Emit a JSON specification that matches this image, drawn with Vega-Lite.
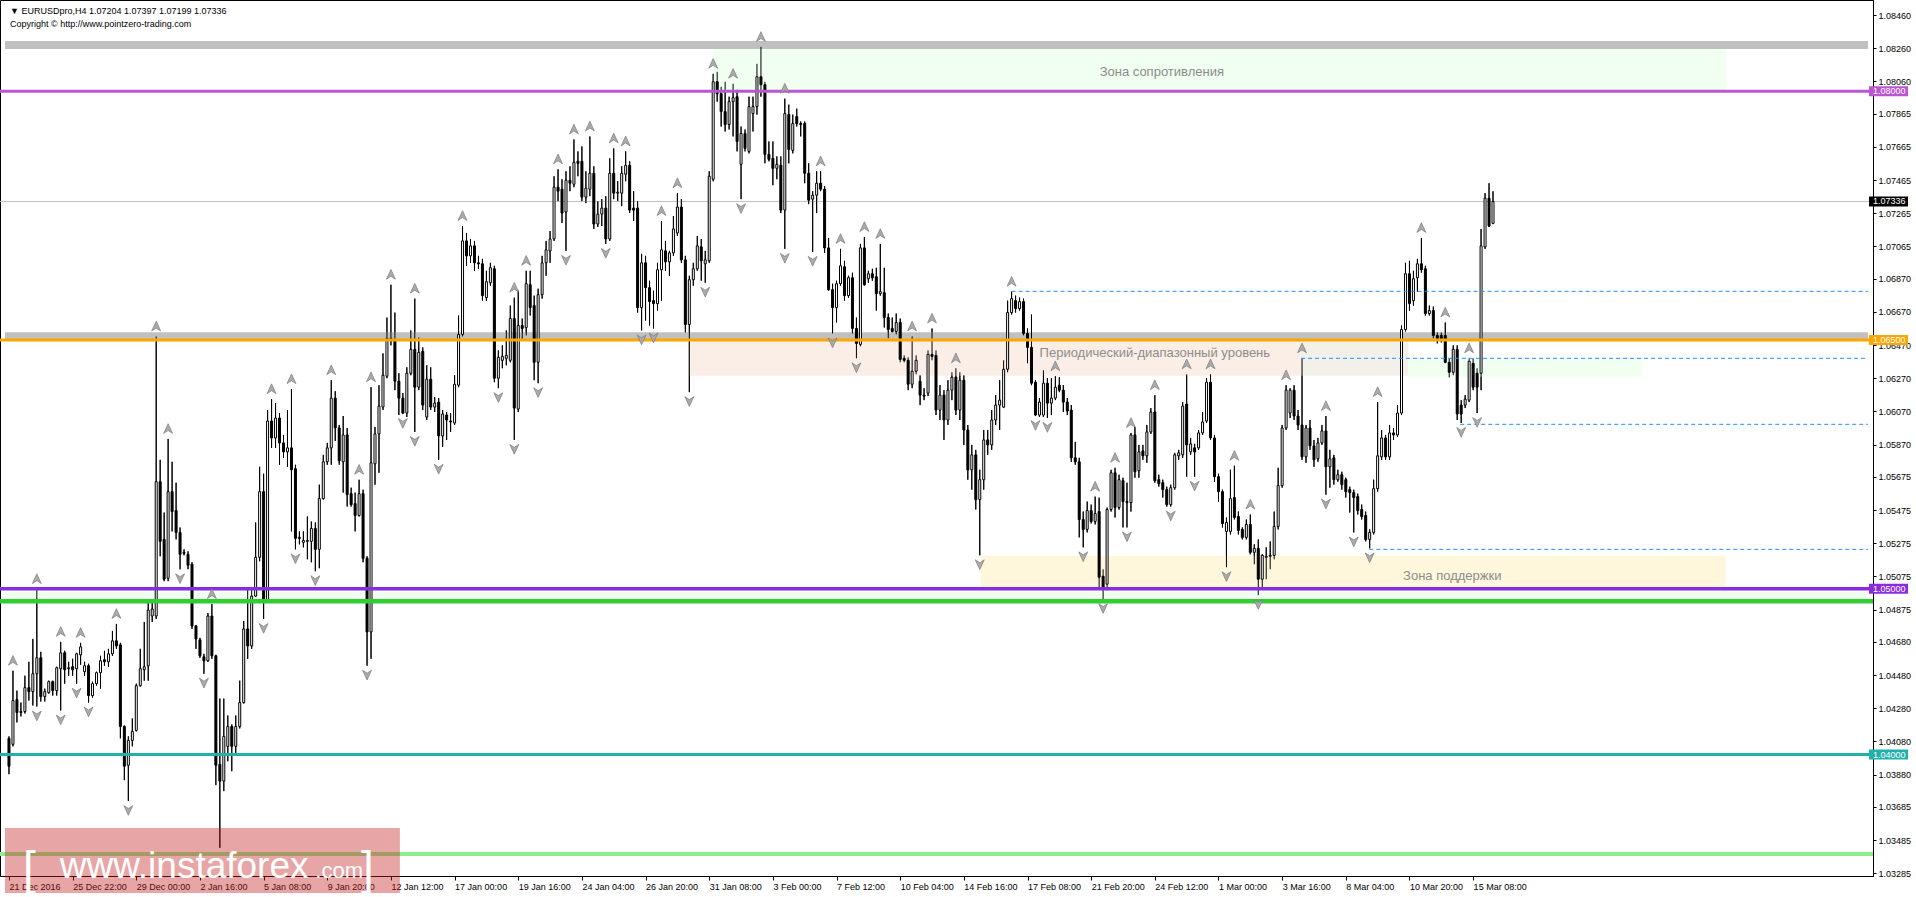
{
"$schema":"https://vega.github.io/schema/vega-lite/v6.json",
"width":1873,"height":876,"autosize":{"type":"none"},"padding":{"left":0,"top":0,"right":43,"bottom":21},"background":"white",
"config":{"view":{"stroke":"black","strokeWidth":1},"font":"Liberation Sans","axis":{"grid":false,"labelFont":"Liberation Sans","labelFontSize":9,"labelColor":"black","tickColor":"black","domainColor":"black","labelOverlap":false,"labelFlush":false,"labelBound":false}},
"datasets":{
"bars":[
{"i":0,"o":1.04098,"h":1.04110,"l":1.03882,"c":1.03930},
{"i":1,"o":1.04062,"h":1.04506,"l":1.04050,"c":1.04326,"f":"u"},
{"i":2,"o":1.04332,"h":1.04386,"l":1.04194,"c":1.04254},
{"i":3,"o":1.04260,"h":1.04314,"l":1.04230,"c":1.04254},
{"i":4,"o":1.04260,"h":1.04476,"l":1.04248,"c":1.04404},
{"i":5,"o":1.04404,"h":1.04560,"l":1.04326,"c":1.04380},
{"i":6,"o":1.04380,"h":1.04698,"l":1.04296,"c":1.04488},
{"i":7,"o":1.04488,"h":1.04998,"l":1.04290,"c":1.04584,"f":"ud"},
{"i":8,"o":1.04584,"h":1.04620,"l":1.04320,"c":1.04350},
{"i":9,"o":1.04350,"h":1.04398,"l":1.04320,"c":1.04380},
{"i":10,"o":1.04374,"h":1.04446,"l":1.04368,"c":1.04440},
{"i":11,"o":1.04440,"h":1.04446,"l":1.04356,"c":1.04386},
{"i":12,"o":1.04386,"h":1.04530,"l":1.04356,"c":1.04524},
{"i":13,"o":1.04518,"h":1.04680,"l":1.04266,"c":1.04614,"f":"ud"},
{"i":14,"o":1.04614,"h":1.04626,"l":1.04428,"c":1.04512},
{"i":15,"o":1.04518,"h":1.04560,"l":1.04476,"c":1.04524},
{"i":16,"o":1.04530,"h":1.04578,"l":1.04476,"c":1.04512},
{"i":17,"o":1.04518,"h":1.04614,"l":1.04428,"c":1.04608,"f":"d"},
{"i":18,"o":1.04602,"h":1.04674,"l":1.04542,"c":1.04650,"f":"u"},
{"i":19,"o":1.04500,"h":1.04560,"l":1.04476,"c":1.04536},
{"i":20,"o":1.04536,"h":1.04548,"l":1.04314,"c":1.04356,"f":"d"},
{"i":21,"o":1.04356,"h":1.04440,"l":1.04344,"c":1.04428},
{"i":22,"o":1.04428,"h":1.04500,"l":1.04416,"c":1.04494},
{"i":23,"o":1.04494,"h":1.04596,"l":1.04398,"c":1.04566},
{"i":24,"o":1.04572,"h":1.04626,"l":1.04536,"c":1.04560},
{"i":25,"o":1.04560,"h":1.04638,"l":1.04530,"c":1.04608},
{"i":26,"o":1.04608,"h":1.04746,"l":1.04596,"c":1.04686},
{"i":27,"o":1.04686,"h":1.04788,"l":1.04638,"c":1.04656,"f":"u"},
{"i":28,"o":1.04662,"h":1.04674,"l":1.04098,"c":1.04170},
{"i":29,"o":1.04170,"h":1.04176,"l":1.03846,"c":1.03930},
{"i":30,"o":1.03936,"h":1.04110,"l":1.03720,"c":1.04086,"f":"d"},
{"i":31,"o":1.04086,"h":1.04218,"l":1.04050,"c":1.04140},
{"i":32,"o":1.04146,"h":1.04428,"l":1.04140,"c":1.04416},
{"i":33,"o":1.04416,"h":1.04638,"l":1.04410,"c":1.04518},
{"i":34,"o":1.04512,"h":1.04800,"l":1.04446,"c":1.04530},
{"i":35,"o":1.04536,"h":1.04920,"l":1.04446,"c":1.04872},
{"i":36,"o":1.04836,"h":1.04938,"l":1.04800,"c":1.04878},
{"i":37,"o":1.04836,"h":1.06522,"l":1.04818,"c":1.05646,"f":"u"},
{"i":38,"o":1.05646,"h":1.05778,"l":1.05196,"c":1.05286},
{"i":39,"o":1.05298,"h":1.05460,"l":1.05046,"c":1.05058},
{"i":40,"o":1.05064,"h":1.05904,"l":1.05046,"c":1.05586,"f":"u"},
{"i":41,"o":1.05586,"h":1.05766,"l":1.05346,"c":1.05466},
{"i":42,"o":1.05472,"h":1.05640,"l":1.05298,"c":1.05340},
{"i":43,"o":1.05340,"h":1.05370,"l":1.05118,"c":1.05208,"f":"d"},
{"i":44,"o":1.05220,"h":1.05238,"l":1.05202,"c":1.05214},
{"i":45,"o":1.05208,"h":1.05226,"l":1.05118,"c":1.05142},
{"i":46,"o":1.05148,"h":1.05160,"l":1.04758,"c":1.04776},
{"i":47,"o":1.04776,"h":1.04782,"l":1.04638,"c":1.04698},
{"i":48,"o":1.04692,"h":1.04704,"l":1.04584,"c":1.04596},
{"i":49,"o":1.04590,"h":1.04608,"l":1.04488,"c":1.04566,"f":"d"},
{"i":50,"o":1.04566,"h":1.04854,"l":1.04560,"c":1.04836},
{"i":51,"o":1.04836,"h":1.04908,"l":1.04578,"c":1.04596,"f":"u"},
{"i":52,"o":1.04596,"h":1.04602,"l":1.03816,"c":1.03936},
{"i":53,"o":1.03942,"h":1.04338,"l":1.03438,"c":1.03840},
{"i":54,"o":1.03840,"h":1.04338,"l":1.03780,"c":1.04110},
{"i":55,"o":1.04050,"h":1.04236,"l":1.03960,"c":1.04170},
{"i":56,"o":1.04170,"h":1.04182,"l":1.03900,"c":1.04050},
{"i":57,"o":1.04050,"h":1.04236,"l":1.04008,"c":1.04170},
{"i":58,"o":1.04170,"h":1.04446,"l":1.04158,"c":1.04314},
{"i":59,"o":1.04314,"h":1.04806,"l":1.04308,"c":1.04758},
{"i":60,"o":1.04758,"h":1.04998,"l":1.04578,"c":1.04656},
{"i":61,"o":1.04656,"h":1.04998,"l":1.04638,"c":1.04956},
{"i":62,"o":1.04956,"h":1.05400,"l":1.04950,"c":1.05190},
{"i":63,"o":1.05190,"h":1.05736,"l":1.05166,"c":1.05586},
{"i":64,"o":1.05586,"h":1.05694,"l":1.04818,"c":1.04938,"f":"d"},
{"i":65,"o":1.04932,"h":1.06078,"l":1.04920,"c":1.06012},
{"i":66,"o":1.06012,"h":1.06144,"l":1.05850,"c":1.05910,"f":"u"},
{"i":67,"o":1.05910,"h":1.06120,"l":1.05850,"c":1.06030},
{"i":68,"o":1.06030,"h":1.06060,"l":1.05748,"c":1.05880},
{"i":69,"o":1.05880,"h":1.05928,"l":1.05790,"c":1.05826},
{"i":70,"o":1.05826,"h":1.06078,"l":1.05736,"c":1.05850},
{"i":71,"o":1.05850,"h":1.06204,"l":1.05346,"c":1.05718,"f":"u"},
{"i":72,"o":1.05724,"h":1.05748,"l":1.05238,"c":1.05304,"f":"d"},
{"i":73,"o":1.05310,"h":1.05346,"l":1.05268,"c":1.05304},
{"i":74,"o":1.05280,"h":1.05346,"l":1.05250,"c":1.05292},
{"i":75,"o":1.05286,"h":1.05436,"l":1.05178,"c":1.05292},
{"i":76,"o":1.05286,"h":1.05406,"l":1.05160,"c":1.05364},
{"i":77,"o":1.05364,"h":1.05400,"l":1.05106,"c":1.05238,"f":"d"},
{"i":78,"o":1.05238,"h":1.05628,"l":1.05124,"c":1.05544},
{"i":79,"o":1.05544,"h":1.05808,"l":1.05538,"c":1.05766},
{"i":80,"o":1.05766,"h":1.05880,"l":1.05748,"c":1.05850},
{"i":81,"o":1.05850,"h":1.06258,"l":1.05748,"c":1.06150,"f":"u"},
{"i":82,"o":1.06150,"h":1.06192,"l":1.05892,"c":1.05970},
{"i":83,"o":1.05970,"h":1.05988,"l":1.05748,"c":1.05772},
{"i":84,"o":1.05766,"h":1.06042,"l":1.05580,"c":1.05928},
{"i":85,"o":1.05928,"h":1.05970,"l":1.05496,"c":1.05568},
{"i":86,"o":1.05574,"h":1.05610,"l":1.05496,"c":1.05508},
{"i":87,"o":1.05514,"h":1.05580,"l":1.05346,"c":1.05442},
{"i":88,"o":1.05442,"h":1.05658,"l":1.05436,"c":1.05574,"f":"u"},
{"i":89,"o":1.05574,"h":1.05598,"l":1.05160,"c":1.05184},
{"i":90,"o":1.05184,"h":1.05196,"l":1.04536,"c":1.04740,"f":"d"},
{"i":91,"o":1.04740,"h":1.06216,"l":1.04578,"c":1.05760,"f":"u"},
{"i":92,"o":1.05754,"h":1.05976,"l":1.05628,"c":1.05934},
{"i":93,"o":1.05934,"h":1.06228,"l":1.05700,"c":1.06102},
{"i":94,"o":1.06096,"h":1.06420,"l":1.06078,"c":1.06288},
{"i":95,"o":1.06282,"h":1.06636,"l":1.06270,"c":1.06510},
{"i":96,"o":1.06504,"h":1.06834,"l":1.06468,"c":1.06510,"f":"u"},
{"i":97,"o":1.06504,"h":1.06666,"l":1.06198,"c":1.06252},
{"i":98,"o":1.06252,"h":1.06300,"l":1.06048,"c":1.06150},
{"i":99,"o":1.06150,"h":1.06180,"l":1.06054,"c":1.06060,"f":"d"},
{"i":100,"o":1.06060,"h":1.06336,"l":1.06036,"c":1.06300},
{"i":101,"o":1.06300,"h":1.06558,"l":1.06288,"c":1.06444},
{"i":102,"o":1.06444,"h":1.06750,"l":1.05946,"c":1.06216,"f":"ud"},
{"i":103,"o":1.06216,"h":1.06516,"l":1.06198,"c":1.06426},
{"i":104,"o":1.06432,"h":1.06456,"l":1.06078,"c":1.06108},
{"i":105,"o":1.06036,"h":1.06348,"l":1.06018,"c":1.06264},
{"i":106,"o":1.06264,"h":1.06336,"l":1.06078,"c":1.06096},
{"i":107,"o":1.06096,"h":1.06156,"l":1.06066,"c":1.06120},
{"i":108,"o":1.06126,"h":1.06150,"l":1.05778,"c":1.05922,"f":"d"},
{"i":109,"o":1.05922,"h":1.06078,"l":1.05856,"c":1.06054},
{"i":110,"o":1.06048,"h":1.06066,"l":1.05898,"c":1.06018},
{"i":111,"o":1.06012,"h":1.06060,"l":1.05946,"c":1.06006},
{"i":112,"o":1.06000,"h":1.06288,"l":1.05988,"c":1.06234},
{"i":113,"o":1.06228,"h":1.06648,"l":1.06216,"c":1.06534},
{"i":114,"o":1.06534,"h":1.07188,"l":1.06522,"c":1.07098,"f":"u"},
{"i":115,"o":1.07098,"h":1.07146,"l":1.06948,"c":1.07008},
{"i":116,"o":1.07008,"h":1.07110,"l":1.06966,"c":1.07068},
{"i":117,"o":1.07068,"h":1.07098,"l":1.06918,"c":1.06966},
{"i":118,"o":1.06966,"h":1.07008,"l":1.06930,"c":1.06960},
{"i":119,"o":1.06960,"h":1.06990,"l":1.06738,"c":1.06768},
{"i":120,"o":1.06756,"h":1.06918,"l":1.06738,"c":1.06852},
{"i":121,"o":1.06846,"h":1.06966,"l":1.06828,"c":1.06936},
{"i":122,"o":1.06930,"h":1.06948,"l":1.06246,"c":1.06270},
{"i":123,"o":1.06270,"h":1.06438,"l":1.06210,"c":1.06396,"f":"d"},
{"i":124,"o":1.06378,"h":1.06468,"l":1.06330,"c":1.06402},
{"i":125,"o":1.06390,"h":1.06558,"l":1.06348,"c":1.06408},
{"i":126,"o":1.06378,"h":1.06708,"l":1.06366,"c":1.06630},
{"i":127,"o":1.06630,"h":1.06756,"l":1.05898,"c":1.06090,"f":"ud"},
{"i":128,"o":1.06084,"h":1.06798,"l":1.06066,"c":1.06588},
{"i":129,"o":1.06588,"h":1.06630,"l":1.06498,"c":1.06570},
{"i":130,"o":1.06576,"h":1.06918,"l":1.06528,"c":1.06840,"f":"u"},
{"i":131,"o":1.06834,"h":1.06918,"l":1.06648,"c":1.06696},
{"i":132,"o":1.06708,"h":1.06768,"l":1.06258,"c":1.06366},
{"i":133,"o":1.06366,"h":1.06810,"l":1.06240,"c":1.06774,"f":"d"},
{"i":134,"o":1.06774,"h":1.07008,"l":1.06750,"c":1.06966},
{"i":135,"o":1.06966,"h":1.07098,"l":1.06888,"c":1.07044},
{"i":136,"o":1.07038,"h":1.07158,"l":1.06966,"c":1.07110},
{"i":137,"o":1.07110,"h":1.07488,"l":1.07098,"c":1.07422},
{"i":138,"o":1.07422,"h":1.07530,"l":1.07338,"c":1.07398,"f":"u"},
{"i":139,"o":1.07410,"h":1.07470,"l":1.07206,"c":1.07266},
{"i":140,"o":1.07272,"h":1.07518,"l":1.07038,"c":1.07464,"f":"d"},
{"i":141,"o":1.07464,"h":1.07548,"l":1.07398,"c":1.07446},
{"i":142,"o":1.07440,"h":1.07710,"l":1.07422,"c":1.07572,"f":"u"},
{"i":143,"o":1.07578,"h":1.07638,"l":1.07488,"c":1.07566},
{"i":144,"o":1.07578,"h":1.07668,"l":1.07338,"c":1.07362},
{"i":145,"o":1.07362,"h":1.07518,"l":1.07326,"c":1.07416},
{"i":146,"o":1.07410,"h":1.07728,"l":1.07368,"c":1.07506,"f":"u"},
{"i":147,"o":1.07506,"h":1.07548,"l":1.07170,"c":1.07200},
{"i":148,"o":1.07200,"h":1.07338,"l":1.07182,"c":1.07260},
{"i":149,"o":1.07260,"h":1.07350,"l":1.07188,"c":1.07296},
{"i":150,"o":1.07296,"h":1.07368,"l":1.07080,"c":1.07110,"f":"d"},
{"i":151,"o":1.07110,"h":1.07596,"l":1.07098,"c":1.07506},
{"i":152,"o":1.07506,"h":1.07656,"l":1.07350,"c":1.07386,"f":"u"},
{"i":153,"o":1.07386,"h":1.07458,"l":1.07338,"c":1.07392},
{"i":154,"o":1.07386,"h":1.07548,"l":1.07308,"c":1.07506},
{"i":155,"o":1.07500,"h":1.07638,"l":1.07458,"c":1.07554,"f":"u"},
{"i":156,"o":1.07554,"h":1.07578,"l":1.07266,"c":1.07284},
{"i":157,"o":1.07296,"h":1.07398,"l":1.07218,"c":1.07284},
{"i":158,"o":1.07296,"h":1.07338,"l":1.06666,"c":1.06696},
{"i":159,"o":1.06696,"h":1.07020,"l":1.06558,"c":1.06966,"f":"d"},
{"i":160,"o":1.06966,"h":1.07008,"l":1.06618,"c":1.06816},
{"i":161,"o":1.06816,"h":1.06858,"l":1.06588,"c":1.06732},
{"i":162,"o":1.06738,"h":1.06798,"l":1.06570,"c":1.06720,"f":"d"},
{"i":163,"o":1.06720,"h":1.06966,"l":1.06678,"c":1.06924},
{"i":164,"o":1.06924,"h":1.07218,"l":1.06738,"c":1.07044,"f":"u"},
{"i":165,"o":1.07038,"h":1.07098,"l":1.06918,"c":1.06972},
{"i":166,"o":1.06972,"h":1.07038,"l":1.06888,"c":1.07026},
{"i":167,"o":1.07026,"h":1.07248,"l":1.07008,"c":1.07170},
{"i":168,"o":1.07146,"h":1.07386,"l":1.07128,"c":1.07302,"f":"u"},
{"i":169,"o":1.07302,"h":1.07350,"l":1.06966,"c":1.06984},
{"i":170,"o":1.06984,"h":1.07008,"l":1.06546,"c":1.06594},
{"i":171,"o":1.06594,"h":1.06888,"l":1.06186,"c":1.06864,"f":"d"},
{"i":172,"o":1.06864,"h":1.06966,"l":1.06828,"c":1.06930},
{"i":173,"o":1.06930,"h":1.07128,"l":1.06918,"c":1.07068},
{"i":174,"o":1.07062,"h":1.07110,"l":1.06858,"c":1.06978},
{"i":175,"o":1.06960,"h":1.07038,"l":1.06846,"c":1.06984,"f":"d"},
{"i":176,"o":1.06978,"h":1.07518,"l":1.06966,"c":1.07488},
{"i":177,"o":1.07470,"h":1.08106,"l":1.07458,"c":1.08058,"f":"u"},
{"i":178,"o":1.08058,"h":1.08118,"l":1.07938,"c":1.07986},
{"i":179,"o":1.07986,"h":1.08028,"l":1.07788,"c":1.07878},
{"i":180,"o":1.07878,"h":1.08058,"l":1.07758,"c":1.07800},
{"i":181,"o":1.07800,"h":1.07968,"l":1.07770,"c":1.07938},
{"i":182,"o":1.07938,"h":1.08046,"l":1.07728,"c":1.07962,"f":"u"},
{"i":183,"o":1.07968,"h":1.08010,"l":1.07638,"c":1.07698},
{"i":184,"o":1.07560,"h":1.07788,"l":1.07350,"c":1.07746,"f":"d"},
{"i":185,"o":1.07746,"h":1.07770,"l":1.07638,"c":1.07656},
{"i":186,"o":1.07638,"h":1.07968,"l":1.07626,"c":1.07908},
{"i":187,"o":1.07866,"h":1.07968,"l":1.07758,"c":1.07908},
{"i":188,"o":1.07908,"h":1.08166,"l":1.07860,"c":1.08088},
{"i":189,"o":1.08088,"h":1.08268,"l":1.07968,"c":1.08040,"f":"u"},
{"i":190,"o":1.08040,"h":1.08058,"l":1.07566,"c":1.07620},
{"i":191,"o":1.07620,"h":1.07698,"l":1.07578,"c":1.07590},
{"i":192,"o":1.07596,"h":1.07698,"l":1.07434,"c":1.07536},
{"i":193,"o":1.07536,"h":1.07608,"l":1.07470,"c":1.07560},
{"i":194,"o":1.07554,"h":1.07608,"l":1.07266,"c":1.07284},
{"i":195,"o":1.07284,"h":1.07956,"l":1.07050,"c":1.07866,"f":"ud"},
{"i":196,"o":1.07860,"h":1.07920,"l":1.07566,"c":1.07650},
{"i":197,"o":1.07644,"h":1.07860,"l":1.07626,"c":1.07806},
{"i":198,"o":1.07848,"h":1.07896,"l":1.07788,"c":1.07806},
{"i":199,"o":1.07806,"h":1.07818,"l":1.07728,"c":1.07800},
{"i":200,"o":1.07806,"h":1.07818,"l":1.07446,"c":1.07506},
{"i":201,"o":1.07506,"h":1.07566,"l":1.07320,"c":1.07344},
{"i":202,"o":1.07350,"h":1.07398,"l":1.07032,"c":1.07374,"f":"d"},
{"i":203,"o":1.07374,"h":1.07518,"l":1.07266,"c":1.07446},
{"i":204,"o":1.07446,"h":1.07518,"l":1.07398,"c":1.07410,"f":"u"},
{"i":205,"o":1.07410,"h":1.07428,"l":1.07026,"c":1.07056},
{"i":206,"o":1.07056,"h":1.07116,"l":1.06798,"c":1.06804},
{"i":207,"o":1.06804,"h":1.06840,"l":1.06540,"c":1.06696,"f":"d"},
{"i":208,"o":1.06696,"h":1.06858,"l":1.06606,"c":1.06840},
{"i":209,"o":1.06840,"h":1.07050,"l":1.06828,"c":1.06948,"f":"u"},
{"i":210,"o":1.06942,"h":1.06978,"l":1.06738,"c":1.06768},
{"i":211,"o":1.06768,"h":1.06888,"l":1.06756,"c":1.06876},
{"i":212,"o":1.06876,"h":1.06906,"l":1.06540,"c":1.06570},
{"i":213,"o":1.06570,"h":1.06636,"l":1.06390,"c":1.06480,"f":"d"},
{"i":214,"o":1.06474,"h":1.07080,"l":1.06462,"c":1.07056},
{"i":215,"o":1.07056,"h":1.07122,"l":1.06828,"c":1.06834,"f":"u"},
{"i":216,"o":1.06870,"h":1.06918,"l":1.06846,"c":1.06900},
{"i":217,"o":1.06900,"h":1.06930,"l":1.06858,"c":1.06876},
{"i":218,"o":1.06882,"h":1.06936,"l":1.06678,"c":1.06780},
{"i":219,"o":1.06780,"h":1.07080,"l":1.06768,"c":1.06792,"f":"u"},
{"i":220,"o":1.06786,"h":1.06936,"l":1.06576,"c":1.06636},
{"i":221,"o":1.06636,"h":1.06660,"l":1.06510,"c":1.06564},
{"i":222,"o":1.06570,"h":1.06636,"l":1.06546,"c":1.06552},
{"i":223,"o":1.06552,"h":1.06660,"l":1.06534,"c":1.06606},
{"i":224,"o":1.06606,"h":1.06630,"l":1.06366,"c":1.06384},
{"i":225,"o":1.06390,"h":1.06408,"l":1.06366,"c":1.06378},
{"i":226,"o":1.06378,"h":1.06396,"l":1.06198,"c":1.06234},
{"i":227,"o":1.06234,"h":1.06522,"l":1.06210,"c":1.06312,"f":"u"},
{"i":228,"o":1.06312,"h":1.06408,"l":1.06294,"c":1.06378},
{"i":229,"o":1.06252,"h":1.06288,"l":1.06108,"c":1.06168},
{"i":230,"o":1.06168,"h":1.06210,"l":1.06138,"c":1.06162},
{"i":231,"o":1.06180,"h":1.06438,"l":1.06162,"c":1.06414},
{"i":232,"o":1.06414,"h":1.06570,"l":1.06378,"c":1.06402,"f":"u"},
{"i":233,"o":1.06408,"h":1.06438,"l":1.06048,"c":1.06078},
{"i":234,"o":1.06078,"h":1.06228,"l":1.06018,"c":1.06168},
{"i":235,"o":1.06168,"h":1.06198,"l":1.05898,"c":1.06018},
{"i":236,"o":1.06018,"h":1.06258,"l":1.05988,"c":1.06198},
{"i":237,"o":1.06198,"h":1.06306,"l":1.06138,"c":1.06276},
{"i":238,"o":1.06276,"h":1.06330,"l":1.06048,"c":1.06078,"f":"u"},
{"i":239,"o":1.06078,"h":1.06306,"l":1.06018,"c":1.06258},
{"i":240,"o":1.06258,"h":1.06288,"l":1.05868,"c":1.05958},
{"i":241,"o":1.05958,"h":1.05988,"l":1.05658,"c":1.05718},
{"i":242,"o":1.05718,"h":1.05868,"l":1.05598,"c":1.05808},
{"i":243,"o":1.05808,"h":1.05838,"l":1.05478,"c":1.05538},
{"i":244,"o":1.05538,"h":1.05718,"l":1.05202,"c":1.05658,"f":"d"},
{"i":245,"o":1.05658,"h":1.05958,"l":1.05598,"c":1.05898},
{"i":246,"o":1.05898,"h":1.05958,"l":1.05808,"c":1.05868},
{"i":247,"o":1.05868,"h":1.06078,"l":1.05838,"c":1.06018},
{"i":248,"o":1.06018,"h":1.06168,"l":1.05988,"c":1.06108},
{"i":249,"o":1.06108,"h":1.06258,"l":1.05958,"c":1.06138},
{"i":250,"o":1.06096,"h":1.06378,"l":1.06090,"c":1.06324},
{"i":251,"o":1.06324,"h":1.06738,"l":1.06306,"c":1.06666},
{"i":252,"o":1.06666,"h":1.06792,"l":1.06654,"c":1.06750,"f":"u"},
{"i":253,"o":1.06738,"h":1.06768,"l":1.06666,"c":1.06690},
{"i":254,"o":1.06690,"h":1.06756,"l":1.06678,"c":1.06732},
{"i":255,"o":1.06732,"h":1.06750,"l":1.06528,"c":1.06540},
{"i":256,"o":1.06540,"h":1.06570,"l":1.06360,"c":1.06456},
{"i":257,"o":1.06456,"h":1.06654,"l":1.06228,"c":1.06240},
{"i":258,"o":1.06246,"h":1.06258,"l":1.06042,"c":1.06048,"f":"d"},
{"i":259,"o":1.06048,"h":1.06150,"l":1.06036,"c":1.06126},
{"i":260,"o":1.06048,"h":1.06318,"l":1.06036,"c":1.06240},
{"i":261,"o":1.06240,"h":1.06270,"l":1.06030,"c":1.06120,"f":"d"},
{"i":262,"o":1.06120,"h":1.06270,"l":1.06048,"c":1.06150},
{"i":263,"o":1.06150,"h":1.06282,"l":1.06138,"c":1.06216,"f":"u"},
{"i":264,"o":1.06228,"h":1.06276,"l":1.06186,"c":1.06198},
{"i":265,"o":1.06198,"h":1.06228,"l":1.06066,"c":1.06126},
{"i":266,"o":1.06126,"h":1.06150,"l":1.06048,"c":1.06072},
{"i":267,"o":1.06078,"h":1.06108,"l":1.05766,"c":1.05790},
{"i":268,"o":1.05790,"h":1.05886,"l":1.05748,"c":1.05766},
{"i":269,"o":1.05766,"h":1.05790,"l":1.05310,"c":1.05418},
{"i":270,"o":1.05418,"h":1.05466,"l":1.05250,"c":1.05358,"f":"d"},
{"i":271,"o":1.05358,"h":1.05526,"l":1.05340,"c":1.05472},
{"i":272,"o":1.05472,"h":1.05508,"l":1.05394,"c":1.05406},
{"i":273,"o":1.05406,"h":1.05556,"l":1.05388,"c":1.05454,"f":"u"},
{"i":274,"o":1.05466,"h":1.05550,"l":1.04998,"c":1.05070},
{"i":275,"o":1.05076,"h":1.05118,"l":1.04938,"c":1.04998,"f":"d"},
{"i":276,"o":1.05028,"h":1.05490,"l":1.04998,"c":1.05478},
{"i":277,"o":1.05478,"h":1.05718,"l":1.05466,"c":1.05700},
{"i":278,"o":1.05700,"h":1.05730,"l":1.05430,"c":1.05490,"f":"u"},
{"i":279,"o":1.05490,"h":1.05688,"l":1.05478,"c":1.05658},
{"i":280,"o":1.05652,"h":1.05670,"l":1.05370,"c":1.05526},
{"i":281,"o":1.05526,"h":1.05640,"l":1.05370,"c":1.05520,"f":"d"},
{"i":282,"o":1.05520,"h":1.05940,"l":1.05466,"c":1.05928,"f":"u"},
{"i":283,"o":1.05928,"h":1.05976,"l":1.05670,"c":1.05706},
{"i":284,"o":1.05712,"h":1.05868,"l":1.05670,"c":1.05826},
{"i":285,"o":1.05832,"h":1.05868,"l":1.05778,"c":1.05802},
{"i":286,"o":1.05802,"h":1.05988,"l":1.05760,"c":1.05946},
{"i":287,"o":1.05946,"h":1.06090,"l":1.05934,"c":1.06066},
{"i":288,"o":1.06066,"h":1.06168,"l":1.05640,"c":1.05652,"f":"u"},
{"i":289,"o":1.05658,"h":1.05688,"l":1.05616,"c":1.05634},
{"i":290,"o":1.05640,"h":1.05658,"l":1.05550,"c":1.05598},
{"i":291,"o":1.05598,"h":1.05616,"l":1.05496,"c":1.05508},
{"i":292,"o":1.05508,"h":1.05628,"l":1.05496,"c":1.05610,"f":"d"},
{"i":293,"o":1.05610,"h":1.05820,"l":1.05598,"c":1.05808},
{"i":294,"o":1.05802,"h":1.05838,"l":1.05778,"c":1.05820},
{"i":295,"o":1.05808,"h":1.06126,"l":1.05790,"c":1.06102},
{"i":296,"o":1.06114,"h":1.06294,"l":1.05676,"c":1.05868,"f":"u"},
{"i":297,"o":1.05826,"h":1.05910,"l":1.05808,"c":1.05874},
{"i":298,"o":1.05850,"h":1.05874,"l":1.05676,"c":1.05826,"f":"d"},
{"i":299,"o":1.05850,"h":1.05958,"l":1.05838,"c":1.05940},
{"i":300,"o":1.05940,"h":1.06066,"l":1.05928,"c":1.06006},
{"i":301,"o":1.06012,"h":1.06270,"l":1.06000,"c":1.06246},
{"i":302,"o":1.06246,"h":1.06294,"l":1.05898,"c":1.05910,"f":"u"},
{"i":303,"o":1.05910,"h":1.05928,"l":1.05646,"c":1.05676},
{"i":304,"o":1.05676,"h":1.05694,"l":1.05526,"c":1.05586},
{"i":305,"o":1.05586,"h":1.05598,"l":1.05370,"c":1.05394},
{"i":306,"o":1.05346,"h":1.05430,"l":1.05130,"c":1.05400,"f":"d"},
{"i":307,"o":1.05346,"h":1.05718,"l":1.05328,"c":1.05544},
{"i":308,"o":1.05550,"h":1.05742,"l":1.05418,"c":1.05430,"f":"u"},
{"i":309,"o":1.05436,"h":1.05466,"l":1.05328,"c":1.05352},
{"i":310,"o":1.05358,"h":1.05370,"l":1.05298,"c":1.05310},
{"i":311,"o":1.05310,"h":1.05418,"l":1.05298,"c":1.05388},
{"i":312,"o":1.05388,"h":1.05448,"l":1.05208,"c":1.05220,"f":"u"},
{"i":313,"o":1.05220,"h":1.05268,"l":1.05148,"c":1.05244},
{"i":314,"o":1.05244,"h":1.05298,"l":1.04962,"c":1.05058,"f":"d"},
{"i":315,"o":1.05058,"h":1.05208,"l":1.04998,"c":1.05202},
{"i":316,"o":1.05190,"h":1.05250,"l":1.05058,"c":1.05196},
{"i":317,"o":1.05196,"h":1.05286,"l":1.05118,"c":1.05202},
{"i":318,"o":1.05202,"h":1.05466,"l":1.05178,"c":1.05376},
{"i":319,"o":1.05376,"h":1.05730,"l":1.05358,"c":1.05622},
{"i":320,"o":1.05622,"h":1.05988,"l":1.05610,"c":1.05970},
{"i":321,"o":1.05970,"h":1.06228,"l":1.05958,"c":1.06198,"f":"u"},
{"i":322,"o":1.06060,"h":1.06210,"l":1.06030,"c":1.06198},
{"i":323,"o":1.06198,"h":1.06228,"l":1.06018,"c":1.06042},
{"i":324,"o":1.06042,"h":1.06078,"l":1.05958,"c":1.05988},
{"i":325,"o":1.05988,"h":1.06390,"l":1.05778,"c":1.05796,"f":"u"},
{"i":326,"o":1.05796,"h":1.05988,"l":1.05760,"c":1.05970},
{"i":327,"o":1.05970,"h":1.06018,"l":1.05838,"c":1.05862},
{"i":328,"o":1.05862,"h":1.05898,"l":1.05736,"c":1.05778},
{"i":329,"o":1.05784,"h":1.05910,"l":1.05766,"c":1.05880},
{"i":330,"o":1.05880,"h":1.05988,"l":1.05868,"c":1.05952},
{"i":331,"o":1.05952,"h":1.06042,"l":1.05568,"c":1.05736,"f":"ud"},
{"i":332,"o":1.05736,"h":1.05838,"l":1.05610,"c":1.05784},
{"i":333,"o":1.05790,"h":1.05808,"l":1.05628,"c":1.05658},
{"i":334,"o":1.05658,"h":1.05718,"l":1.05646,"c":1.05688},
{"i":335,"o":1.05688,"h":1.05706,"l":1.05598,"c":1.05628},
{"i":336,"o":1.05658,"h":1.05670,"l":1.05550,"c":1.05586},
{"i":337,"o":1.05598,"h":1.05616,"l":1.05460,"c":1.05580},
{"i":338,"o":1.05580,"h":1.05598,"l":1.05340,"c":1.05550,"f":"d"},
{"i":339,"o":1.05556,"h":1.05574,"l":1.05448,"c":1.05472},
{"i":340,"o":1.05478,"h":1.05508,"l":1.05418,"c":1.05436},
{"i":341,"o":1.05442,"h":1.05466,"l":1.05286,"c":1.05298},
{"i":342,"o":1.05298,"h":1.05358,"l":1.05244,"c":1.05340,"f":"d"},
{"i":343,"o":1.05340,"h":1.05658,"l":1.05328,"c":1.05604},
{"i":344,"o":1.05604,"h":1.06126,"l":1.05586,"c":1.05802,"f":"u"},
{"i":345,"o":1.05796,"h":1.05958,"l":1.05778,"c":1.05910},
{"i":346,"o":1.05910,"h":1.05928,"l":1.05778,"c":1.05796},
{"i":347,"o":1.05796,"h":1.05988,"l":1.05778,"c":1.05940},
{"i":348,"o":1.05940,"h":1.05970,"l":1.05898,"c":1.05928},
{"i":349,"o":1.05928,"h":1.06108,"l":1.05916,"c":1.06060},
{"i":350,"o":1.06060,"h":1.06588,"l":1.06048,"c":1.06564},
{"i":351,"o":1.06564,"h":1.06966,"l":1.06552,"c":1.06900},
{"i":352,"o":1.06900,"h":1.06978,"l":1.06678,"c":1.06720},
{"i":353,"o":1.06738,"h":1.06918,"l":1.06708,"c":1.06870},
{"i":354,"o":1.06876,"h":1.06990,"l":1.06792,"c":1.06960},
{"i":355,"o":1.06960,"h":1.07116,"l":1.06906,"c":1.06924,"f":"u"},
{"i":356,"o":1.06930,"h":1.06948,"l":1.06648,"c":1.06660},
{"i":357,"o":1.06660,"h":1.06708,"l":1.06648,"c":1.06678},
{"i":358,"o":1.06678,"h":1.06702,"l":1.06510,"c":1.06528},
{"i":359,"o":1.06528,"h":1.06546,"l":1.06480,"c":1.06510},
{"i":360,"o":1.06528,"h":1.06546,"l":1.06486,"c":1.06498},
{"i":361,"o":1.06528,"h":1.06606,"l":1.06360,"c":1.06366,"f":"u"},
{"i":362,"o":1.06366,"h":1.06390,"l":1.06276,"c":1.06306},
{"i":363,"o":1.06306,"h":1.06468,"l":1.06288,"c":1.06444},
{"i":364,"o":1.06444,"h":1.06468,"l":1.06018,"c":1.06054},
{"i":365,"o":1.06108,"h":1.06138,"l":1.06000,"c":1.06054,"f":"d"},
{"i":366,"o":1.06108,"h":1.06168,"l":1.06090,"c":1.06144},
{"i":367,"o":1.06138,"h":1.06390,"l":1.06126,"c":1.06372,"f":"u"},
{"i":368,"o":1.06360,"h":1.06390,"l":1.06198,"c":1.06216},
{"i":369,"o":1.06300,"h":1.06330,"l":1.06060,"c":1.06216,"f":"d"},
{"i":370,"o":1.06300,"h":1.07170,"l":1.06198,"c":1.07068},
{"i":371,"o":1.07062,"h":1.07386,"l":1.07050,"c":1.07356},
{"i":372,"o":1.07356,"h":1.07446,"l":1.07182,"c":1.07188},
{"i":373,"o":1.07204,"h":1.07397,"l":1.07199,"c":1.07336}
],
"zones":[
{"k":"gap","a":-1,"b":467.25,"p1":1.04925,"p2":1.05},
{"k":"res","a":177,"b":431.5,"p1":1.08,"p2":1.08255},
{"k":"band","a":-1,"b":467.25,"p1":1.08255,"p2":1.08303},
{"k":"band","a":-1,"b":467.25,"p1":1.06504,"p2":1.06547},
{"k":"range","a":171,"b":324.75,"p1":1.06285,"p2":1.065},
{"k":"range2","a":324.75,"b":351.75,"p1":1.06285,"p2":1.065},
{"k":"res2","a":351.75,"b":410.5,"p1":1.06279,"p2":1.06392},
{"k":"sup","a":244.25,"b":431.5,"p1":1.05,"p2":1.052}
],
"levels":[
{"k":"cur","p":1.07336},
{"k":"m","p":1.08},
{"k":"o","p":1.065},
{"k":"v","p":1.05},
{"k":"g","p":1.04925},
{"k":"t","p":1.04},
{"k":"lg","p":1.03401}
],
"dashed":[
{"a":252,"p":1.06794},
{"a":324.75,"p":1.0639},
{"a":364.75,"p":1.05992},
{"a":341.9,"p":1.05238}
],
"notes":[
{"t":"Зона сопротивления","i":289.75,"p":1.08116},
{"t":"Периодический-диапазонный уровень","i":288,"p":1.06422},
{"t":"Зона поддержки","i":362.75,"p":1.0508}
],
"hdr":[
{"t":"▼ EURUSDpro,H4  1.07204 1.07397 1.07199 1.07336","p":1.08484},
{"t":"Copyright © http://www.pointzero-trading.com","p":1.08406}
],
"wm":[{"a":-1,"b":98.25,"p1":1.03166,"p2":1.03558}],
"wmt":[
{"t":"[","i":3.5,"s":"b"},
{"t":"www.instaforex","i":12.75,"s":"m"},
{"t":".com","i":77,"s":"c"},
{"t":"]","i":88.5,"s":"b"}
],
"tags":[
{"k":"m","p":1.08},
{"k":"cur","p":1.07336},
{"k":"o","p":1.065},
{"k":"v","p":1.05},
{"k":"t","p":1.04}
]
},
"layer":[
{"data":{"name":"bars"},"mark":{"type":"rule","color":"black","strokeWidth":1},
 "encoding":{
  "x":{"field":"i","type":"quantitative","scale":{"domain":[-1,467.25],"nice":false,"zero":false},
   "axis":{"orient":"bottom","title":null,"grid":false,"tickCount":60,"values":[0,16,32,48,64,80,96,112,128,144,160,176,192,208,224,240,256,272,288,304,320,336,352,368],
    "labelExpr":"['21 Dec 2016','25 Dec 22:00','29 Dec 00:00','2 Jan 16:00','5 Jan 08:00','9 Jan 20:00','12 Jan 12:00','17 Jan 00:00','19 Jan 16:00','24 Jan 04:00','26 Jan 20:00','31 Jan 08:00','3 Feb 00:00','7 Feb 12:00','10 Feb 04:00','14 Feb 16:00','17 Feb 08:00','21 Feb 20:00','24 Feb 12:00','1 Mar 00:00','3 Mar 16:00','8 Mar 04:00','10 Mar 20:00','15 Mar 08:00'][round(datum.value/16)]",
    "labelAlign":"left","labelBaseline":"top","labelPadding":2,"tickSize":4,"labelOverlap":false,"labelFlush":false,"labelBound":false}},
  "y":{"field":"l","type":"quantitative","scale":{"domain":[1.03268,1.08551],"nice":false,"zero":false},
   "axis":{"orient":"right","title":null,"grid":false,"tickCount":40,"values":[1.0846,1.0826,1.0806,1.07865,1.07665,1.07465,1.07265,1.07065,1.0687,1.0667,1.0647,1.0627,1.0607,1.0587,1.05675,1.05475,1.05275,1.05075,1.04875,1.0468,1.0448,1.0428,1.0408,1.0388,1.03685,1.03485,1.03285],
    "format":".5f","labelPadding":2,"tickSize":3,"labelOverlap":false,"labelFlush":false,"labelBound":false}},
  "y2":{"field":"h"}}},
{"data":{"name":"zones"},"mark":{"type":"rect"},
 "encoding":{
  "x":{"field":"a","type":"quantitative","title":null,"scale":{"domain":[-1,467.25],"nice":false,"zero":false}},
  "x2":{"field":"b"},
  "y":{"field":"p1","type":"quantitative","title":null,"scale":{"domain":[1.03268,1.08551],"nice":false,"zero":false}},
  "y2":{"field":"p2"},
  "color":{"field":"k","type":"nominal","legend":null,"scale":{"domain":["gap","res","band","range","range2","res2","sup"],"range":["#f0fff0","#f0fff0","#c0c0c0","#faeee6","#f3f0ea","#f0fff0","#fff7dc"]}}}},
{"data":{"name":"levels"},"transform":[{"filter":"datum.k=='cur'"}],"mark":{"type":"rule","color":"#c0c0c0","strokeWidth":1},
 "encoding":{"y":{"field":"p","type":"quantitative","title":null,"scale":{"domain":[1.03268,1.08551],"nice":false,"zero":false}}}},
{"data":{"name":"bars"},"mark":{"type":"rule","color":"black","strokeWidth":1},
 "encoding":{
  "x":{"field":"i","type":"quantitative","title":null,"scale":{"domain":[-1,467.25],"nice":false,"zero":false}},
  "y":{"field":"l","type":"quantitative","title":null,"scale":{"domain":[1.03268,1.08551],"nice":false,"zero":false}},
  "y2":{"field":"h"}}},
{"data":{"name":"bars"},"mark":{"type":"bar","width":2,"stroke":"black","strokeWidth":1},
 "encoding":{
  "x":{"field":"i","type":"quantitative","title":null,"scale":{"domain":[-1,467.25],"nice":false,"zero":false}},
  "y":{"field":"o","type":"quantitative","title":null,"scale":{"domain":[1.03268,1.08551],"nice":false,"zero":false}},
  "y2":{"field":"c"},
  "fill":{"condition":{"test":"datum.c < datum.o","value":"black"},"value":"white"}}},
{"data":{"name":"levels"},"transform":[{"filter":"datum.k=='m'"}],"mark":{"type":"rule","color":"#ba55d3","strokeWidth":3},
 "encoding":{"y":{"field":"p","type":"quantitative","title":null,"scale":{"domain":[1.03268,1.08551],"nice":false,"zero":false}}}},
{"data":{"name":"levels"},"transform":[{"filter":"datum.k=='o'"}],"mark":{"type":"rule","color":"#ffa500","strokeWidth":3},
 "encoding":{"y":{"field":"p","type":"quantitative","title":null,"scale":{"domain":[1.03268,1.08551],"nice":false,"zero":false}}}},
{"data":{"name":"levels"},"transform":[{"filter":"datum.k=='v'"}],"mark":{"type":"rule","color":"#8a2be2","strokeWidth":3.5},
 "encoding":{"y":{"field":"p","type":"quantitative","title":null,"scale":{"domain":[1.03268,1.08551],"nice":false,"zero":false}}}},
{"data":{"name":"levels"},"transform":[{"filter":"datum.k=='g'"}],"mark":{"type":"rule","color":"#32cd32","strokeWidth":4.5},
 "encoding":{"y":{"field":"p","type":"quantitative","title":null,"scale":{"domain":[1.03268,1.08551],"nice":false,"zero":false}}}},
{"data":{"name":"levels"},"transform":[{"filter":"datum.k=='t'"}],"mark":{"type":"rule","color":"#20b2aa","strokeWidth":3},
 "encoding":{"y":{"field":"p","type":"quantitative","title":null,"scale":{"domain":[1.03268,1.08551],"nice":false,"zero":false}}}},
{"data":{"name":"levels"},"transform":[{"filter":"datum.k=='lg'"}],"mark":{"type":"rule","color":"#90ee90","strokeWidth":4},
 "encoding":{"y":{"field":"p","type":"quantitative","title":null,"scale":{"domain":[1.03268,1.08551],"nice":false,"zero":false}}}},
{"data":{"name":"dashed"},"mark":{"type":"rule","color":"#1e90ff","strokeWidth":1,"strokeDash":[4,3]},
 "encoding":{
  "x":{"field":"a","type":"quantitative","title":null,"scale":{"domain":[-1,467.25],"nice":false,"zero":false}},
  "x2":{"datum":467.25},
  "y":{"field":"p","type":"quantitative","title":null,"scale":{"domain":[1.03268,1.08551],"nice":false,"zero":false}}}},
{"data":{"name":"bars"},"transform":[{"filter":"indexof(datum.f||'','u')>=0"}],
 "mark":{"type":"point","shape":"M0,-1L0.85,0.85L0,0.3L-0.85,0.85Z","size":110,"filled":true,"fill":"#ababab","stroke":"#7a7a7a","strokeWidth":0.7,"opacity":1,"yOffset":-10},
 "encoding":{
  "x":{"field":"i","type":"quantitative","title":null,"scale":{"domain":[-1,467.25],"nice":false,"zero":false}},
  "y":{"field":"h","type":"quantitative","title":null,"scale":{"domain":[1.03268,1.08551],"nice":false,"zero":false}}}},
{"data":{"name":"bars"},"transform":[{"filter":"indexof(datum.f||'','d')>=0"}],
 "mark":{"type":"point","shape":"M0,1L0.85,-0.85L0,-0.3L-0.85,-0.85Z","size":110,"filled":true,"fill":"#ababab","stroke":"#7a7a7a","strokeWidth":0.7,"opacity":1,"yOffset":9},
 "encoding":{
  "x":{"field":"i","type":"quantitative","title":null,"scale":{"domain":[-1,467.25],"nice":false,"zero":false}},
  "y":{"field":"l","type":"quantitative","title":null,"scale":{"domain":[1.03268,1.08551],"nice":false,"zero":false}}}},
{"data":{"name":"notes"},"mark":{"type":"text","align":"center","baseline":"middle","font":"Liberation Sans","fontSize":13,"color":"#8c8c8c"},
 "encoding":{
  "x":{"field":"i","type":"quantitative","title":null,"scale":{"domain":[-1,467.25],"nice":false,"zero":false}},
  "y":{"field":"p","type":"quantitative","title":null,"scale":{"domain":[1.03268,1.08551],"nice":false,"zero":false}},
  "text":{"field":"t"}}},
{"data":{"name":"hdr"},"mark":{"type":"text","align":"left","baseline":"middle","font":"Liberation Sans","fontSize":9,"color":"black","dx":5},
 "encoding":{
  "x":{"datum":-1,"type":"quantitative","title":null,"scale":{"domain":[-1,467.25],"nice":false,"zero":false}},
  "y":{"field":"p","type":"quantitative","title":null,"scale":{"domain":[1.03268,1.08551],"nice":false,"zero":false}},
  "text":{"field":"t"}}},
{"data":{"name":"wm"},"mark":{"type":"rect","color":"#c41e1e","opacity":0.4},
 "encoding":{
  "x":{"field":"a","type":"quantitative","title":null,"scale":{"domain":[-1,467.25],"nice":false,"zero":false}},
  "x2":{"field":"b"},
  "y":{"field":"p1","type":"quantitative","title":null,"scale":{"domain":[1.03268,1.08551],"nice":false,"zero":false}},
  "y2":{"field":"p2"}}},
{"data":{"name":"wmt"},"transform":[{"filter":"datum.s=='m'"}],
 "mark":{"type":"text","align":"left","baseline":"alphabetic","font":"Liberation Sans","fontSize":37,"color":"white","dy":2},
 "encoding":{
  "x":{"field":"i","type":"quantitative","title":null,"scale":{"domain":[-1,467.25],"nice":false,"zero":false}},
  "y":{"datum":1.03268,"type":"quantitative","title":null,"scale":{"domain":[1.03268,1.08551],"nice":false,"zero":false}},
  "text":{"field":"t"}}},
{"data":{"name":"wmt"},"transform":[{"filter":"datum.s=='c'"}],
 "mark":{"type":"text","align":"left","baseline":"alphabetic","font":"Liberation Sans","fontSize":22,"color":"white","dy":2},
 "encoding":{
  "x":{"field":"i","type":"quantitative","title":null,"scale":{"domain":[-1,467.25],"nice":false,"zero":false}},
  "y":{"datum":1.03268,"type":"quantitative","title":null,"scale":{"domain":[1.03268,1.08551],"nice":false,"zero":false}},
  "text":{"field":"t"}}},
{"data":{"name":"wmt"},"transform":[{"filter":"datum.s=='b'"}],
 "mark":{"type":"text","align":"left","baseline":"alphabetic","font":"Liberation Sans","fontSize":46,"fontWeight":"lighter","color":"white","dy":8},
 "encoding":{
  "x":{"field":"i","type":"quantitative","title":null,"scale":{"domain":[-1,467.25],"nice":false,"zero":false}},
  "y":{"datum":1.03268,"type":"quantitative","title":null,"scale":{"domain":[1.03268,1.08551],"nice":false,"zero":false}},
  "text":{"field":"t"}}},
{"data":{"name":"tags"},"mark":{"type":"rect","xOffset":1,"x2Offset":40,"yOffset":-5,"y2Offset":5},
 "encoding":{
  "x":{"datum":467.25,"type":"quantitative","title":null,"scale":{"domain":[-1,467.25],"nice":false,"zero":false}},
  "x2":{"datum":467.25},
  "y":{"field":"p","type":"quantitative","title":null,"scale":{"domain":[1.03268,1.08551],"nice":false,"zero":false}},
  "y2":{"field":"p"},
  "fill":{"field":"k","type":"nominal","legend":null,"scale":{"domain":["m","cur","o","v","t"],"range":["#ba55d3","#000000","#ffa500","#8a2be2","#20b2aa"]}}}},
{"data":{"name":"tags"},"mark":{"type":"text","align":"left","baseline":"middle","font":"Liberation Sans","fontSize":9,"color":"white","dx":5},
 "encoding":{
  "x":{"datum":467.25,"type":"quantitative","title":null,"scale":{"domain":[-1,467.25],"nice":false,"zero":false}},
  "y":{"field":"p","type":"quantitative","title":null,"scale":{"domain":[1.03268,1.08551],"nice":false,"zero":false}},
  "text":{"field":"p","format":".5f"}}}
]
}
